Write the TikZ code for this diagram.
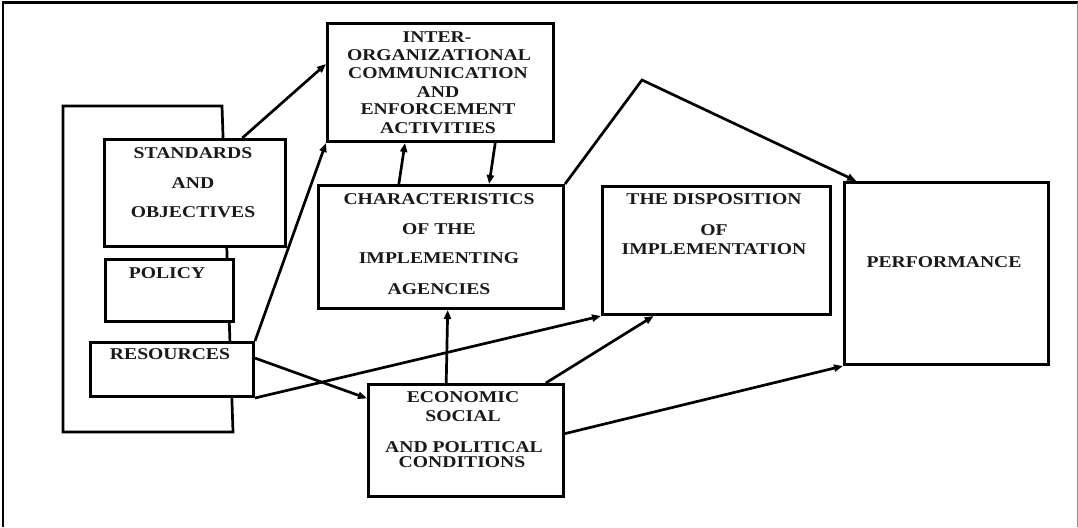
\documentclass[tikz,border=0pt]{standalone}
\usepackage{fontspec}
\newfontfamily\lblfont{Liberation Serif}[FakeStretch=1.19]
\usetikzlibrary{arrows.meta,calc}
\begin{document}
\begin{tikzpicture}[x=1pt,y=-1pt,
  box/.style={draw,line width=3pt,fill=white,rectangle,inner sep=0pt,anchor=north west},
  lbl/.style={inner sep=0pt,text=black!90,font=\lblfont\bfseries\fontsize{16.5}{18}\selectfont},
  link/.style={line width=2.7pt,-{Triangle[length=9pt,width=7pt]}},
  line join=miter]
\useasboundingbox (0,0) rectangle (1078,527);

% outer frame (open at the bottom)
\draw[line width=2.5pt] (3,527) -- (3,2.5) -- (1078,2.5);
\draw[black!45,line width=1pt] (1077,3) -- (1077,527);

% enclosing frame behind the three input boxes
\draw[line width=2.7pt] (63,106) -- (222,106) -- (233,432) -- (63,432) -- cycle;

% boxes
\node[box,minimum width=181pt,minimum height=107pt] (std) at (103,138) {};
\node[box,minimum width=128pt,minimum height=62pt]  (pol) at (104,258) {};
\node[box,minimum width=163pt,minimum height=54pt]  (res) at (89,341) {};
\node[box,minimum width=226pt,minimum height=118pt] (ioc) at (326,22) {};
\node[box,minimum width=245pt,minimum height=123pt] (cha) at (317,184) {};
\node[box,minimum width=228pt,minimum height=128pt] (dis) at (601,185) {};
\node[box,minimum width=204pt,minimum height=182pt] (per) at (843,181) {};
\node[box,minimum width=195pt,minimum height=112pt] (eco) at (367,383) {};

% labels
\node[lbl] (std1) at (193,153) {STANDARDS};
\node[lbl] (std2) at (193,183) {AND};
\node[lbl] (std3) at (193,212) {OBJECTIVES};
\node[lbl] (pol1) at (167,273) {POLICY};
\node[lbl] (res1) at (170,354) {RESOURCES};
\node[lbl] (ioc1) at (437,37)  {INTER-};
\node[lbl] (ioc2) at (439,55)  {ORGANIZATIONAL};
\node[lbl] (ioc3) at (438,73)  {COMMUNICATION};
\node[lbl] (ioc4) at (438,92)  {AND};
\node[lbl] (ioc5) at (438,109) {ENFORCEMENT};
\node[lbl] (ioc6) at (438,128) {ACTIVITIES};
\node[lbl] (cha1) at (439,199) {CHARACTERISTICS};
\node[lbl] (cha2) at (439,229) {OF THE};
\node[lbl] (cha3) at (439,258) {IMPLEMENTING};
\node[lbl] (cha4) at (439,289) {AGENCIES};
\node[lbl] (dis1) at (714,199) {THE DISPOSITION};
\node[lbl] (dis2) at (714,230) {OF};
\node[lbl] (dis3) at (714,249) {IMPLEMENTATION};
\node[lbl] (per1) at (944,262) {PERFORMANCE};
\node[lbl] (eco1) at (463,397) {ECONOMIC};
\node[lbl] (eco2) at (463,416) {SOCIAL};
\node[lbl] (eco3) at (464,447) {AND POLITICAL};
\node[lbl] (eco4) at (462,462) {CONDITIONS};

% connectors
\coordinate (peak) at (642,80);
\draw[link] ($(std.north west)!0.757!(std.north east)$) -- ($(ioc.north west)!0.347!(ioc.south west)$);
\draw[link] (res.north east) -- (ioc.south west);
\draw[link] ($(cha.north west)!0.33!(cha.north east)$) -- ($(ioc.south west)!0.345!(ioc.south east)$);
\draw[link] ($(ioc.south west)!0.739!(ioc.south east)$) -- ($(cha.north west)!0.694!(cha.north east)$);
\draw[link] (cha.north east) -- (peak) -- ($(per.north west)!0.064!(per.north east)$);
\draw[link] ($(res.north east)!0.3!(res.south east)$) -- ($(eco.north west)!0.134!(eco.south west)$);
\draw[link] (res.south east) -- (dis.south west);
\draw[link] ($(eco.north west)!0.4!(eco.north east)$) -- ($(cha.south west)!0.527!(cha.south east)$);
\draw[link] ($(eco.north west)!0.903!(eco.north east)$) -- ($(dis.south west)!0.228!(dis.south east)$);
\draw[link] ($(eco.north east)!0.44!(eco.south east)$) -- (per.south west);
\end{tikzpicture}
\end{document}
